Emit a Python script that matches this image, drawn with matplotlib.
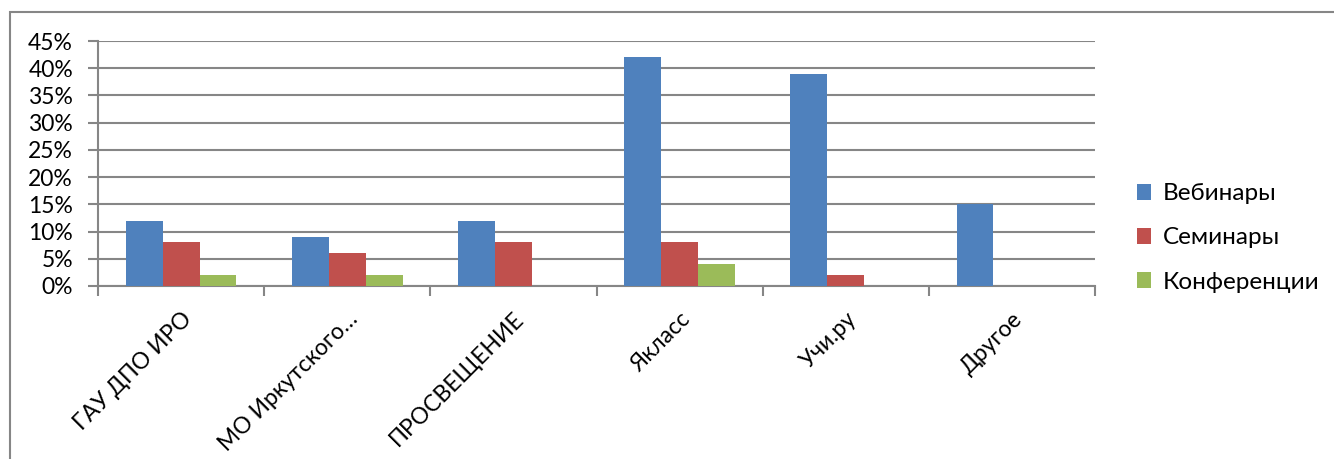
import matplotlib
matplotlib.use("Agg")
import matplotlib.pyplot as plt
import numpy as np
from matplotlib.ticker import PercentFormatter, FixedLocator, NullFormatter
from matplotlib.patches import Rectangle

categories = ["ГАУ ДПО ИРО", "МО Иркутского…", "ПРОСВЕЩЕНИЕ", "Якласс", "Учи.ру", "Другое"]
series_names = ["Вебинары", "Семинары", "Конференции"]
webinars = [0.12, 0.09, 0.12, 0.42, 0.39, 0.15]
seminars = [0.08, 0.06, 0.08, 0.08, 0.02, 0.0]
conferences = [0.02, 0.02, 0.0, 0.04, 0.0, 0.0]
colors = ["#4F81BD", "#C0504D", "#9BBB59"]

plt.rcParams['font.family'] = ['Lato', 'DejaVu Sans']

fig = plt.figure(figsize=(13.34, 4.59), dpi=100)
ax = fig.add_axes([98/1334, 1-286/459, (1095-98)/1334, (286-41)/459])

x = np.arange(len(categories))
w = 0.222
for i, (vals, name) in enumerate(zip([webinars, seminars, conferences], series_names)):
    ax.bar(x + (i-1)*w, vals, width=w, color=colors[i], label=name, zorder=3)

ax.set_xlim(-0.5, len(categories)-0.5)
ax.set_ylim(0, 0.45)
ax.set_yticks(np.arange(0, 0.451, 0.05))
ax.yaxis.set_major_formatter(PercentFormatter(1, decimals=0))
ax.grid(axis='y', color='#868686', linewidth=1.5, zorder=0)
ax.set_axisbelow(True)

ax.set_xticks(x)
ax.set_xticklabels(categories, rotation=45, ha='right', va='top', rotation_mode='anchor', fontsize=16.5)
ax.tick_params(axis='x', length=0, pad=16)
ax.xaxis.set_minor_locator(FixedLocator(np.arange(-0.5, len(categories), 1.0)))
ax.xaxis.set_minor_formatter(NullFormatter())
ax.tick_params(axis='x', which='minor', length=7, width=1.5, color='#868686')
ax.tick_params(axis='y', length=7, width=1.5, color='#868686', labelsize=16.5, pad=11)

for s in ['top', 'right']:
    ax.spines[s].set_visible(False)
ax.spines['left'].set_color('#868686')
ax.spines['left'].set_linewidth(1.5)
ax.spines['bottom'].set_color('#868686')
ax.spines['bottom'].set_linewidth(1.5)

leg = ax.legend(loc='center left', bbox_to_anchor=(1.042, 0.196), frameon=False,
                fontsize=17.5, handlelength=0.6, handleheight=0.6, handletextpad=0.45,
                labelspacing=0.95, borderaxespad=0, borderpad=0)

fig.patches.append(Rectangle((10/1334, -0.05), 1.0, 1-12/459+0.05, transform=fig.transFigure,
                             fill=False, edgecolor='#868686', linewidth=1.5))

fig.savefig("out.png", dpi=100)
